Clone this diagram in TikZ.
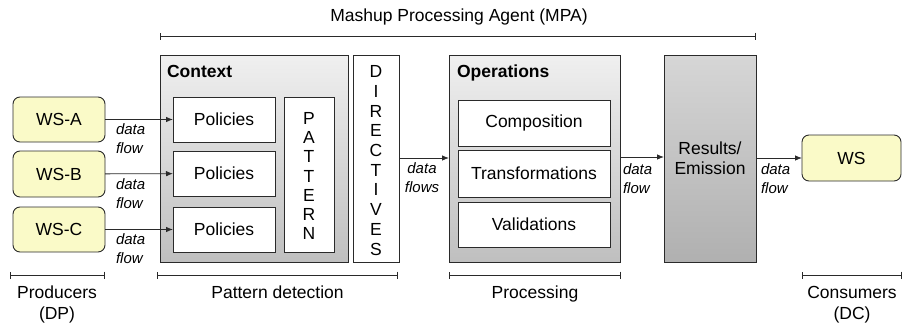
\documentclass[tikz,border=0pt]{standalone}
\usepackage{fontspec}
\setmainfont{Liberation Sans}
\usetikzlibrary{arrows.meta,calc}
\definecolor{wsyellow}{HTML}{FAFAC8}
\definecolor{edge}{HTML}{2A2A2A}
\begin{document}
\begin{tikzpicture}[x=1pt,y=-1pt,
  every node/.style={font=\fontsize{17.5}{20}\selectfont, inner sep=0pt, outer sep=0pt},
  wsbox/.style={draw=edge, line width=0.9pt, fill=wsyellow, rounded corners=7pt},
  whitebox/.style={draw=edge, line width=0.9pt, fill=white},
  lightgroup/.style={draw=edge, line width=0.9pt, top color=black!6, bottom color=black!25},
  darkgroup/.style={draw=edge, line width=0.9pt, top color=black!16, bottom color=black!31},
  flow/.style={-{Latex[length=7pt,width=5.5pt]}, line width=0.8pt, draw=edge},
  lbl/.style={font=\fontsize{15}{18.5}\selectfont\itshape},
  grouptitle/.style={font=\fontsize{17.5}{20}\selectfont\bfseries, anchor=north west},
  brk/.style={{Bar[width=7pt]}-{Bar[width=7pt]}, line width=0.8pt, draw=edge},
  caption/.style={align=center, anchor=north, font=\fontsize{17.5}{21}\selectfont}
]
\useasboundingbox (0,0) rectangle (902,327);

% top bracket
\coordinate (mpaL) at (160,36);
\coordinate (mpaR) at (756,36);
\draw[brk] (mpaL) -- (mpaR);
\node (mpa) at (459,17) {Mashup Processing Agent (MPA)};

% producers
\node[wsbox, minimum width=92pt, minimum height=45pt] (wsa) at (59,119.5) {WS-A};
\node[wsbox, minimum width=92pt, minimum height=46pt] (wsb) at (59,174) {WS-B};
\node[wsbox, minimum width=92pt, minimum height=45pt] (wsc) at (59,229.5) {WS-C};

% context
\node[lightgroup, minimum width=188pt, minimum height=207pt] (ctx) at (254,158.5) {};
\node[grouptitle] (ctxt) at (167,65) {Context};
\node[whitebox, minimum width=102pt, minimum height=45pt] (pol1) at (224,119.5) {Policies};
\node[whitebox, minimum width=102pt, minimum height=45pt] (pol2) at (224,173.5) {Policies};
\node[whitebox, minimum width=102pt, minimum height=45pt] (pol3) at (224,229.5) {Policies};
\node[whitebox, minimum width=50pt, minimum height=155pt] (pat) at (309,174.5) {};
\node[align=center, font=\fontsize{17.5}{19.2}\selectfont] (patt) at ($(pat.center)+(0,1.5)$) {P\\A\\T\\T\\E\\R\\N};

% directives
\node[whitebox, minimum width=46pt, minimum height=207pt] (dir) at (376,158.5) {};
\node[align=center, font=\fontsize{17.5}{19.7}\selectfont] (dirt) at ($(dir.center)+(0,2)$) {D\\I\\R\\E\\C\\T\\I\\V\\E\\S};

% operations
\node[lightgroup, minimum width=171pt, minimum height=207pt] (ops) at (534.5,158.5) {};
\node[grouptitle] (opst) at (457,65) {Operations};
\node[whitebox, minimum width=152pt, minimum height=46pt] (comp) at (534,123) {Composition};
\node[whitebox, minimum width=152pt, minimum height=47pt] (trans) at (534,173.5) {Transformations};
\node[whitebox, minimum width=152pt, minimum height=45pt] (val) at (534,224.5) {Validations};

% results
\node[darkgroup, minimum width=92pt, minimum height=207pt, align=center] (res) at (710,158.5) {Results/\\Emission};

% consumer
\node[wsbox, minimum width=99pt, minimum height=46pt] (ws) at (851.5,158) {WS};

% flows
\draw[flow] (wsa) -- (pol1);
\draw[flow] (wsb) -- (pol2);
\draw[flow] (wsc) -- (pol3);
\draw[flow] (dir.east |- 0,158) -- (ops.west |- 0,158);
\draw[flow] (ops.east |- 0,157) -- (res.west |- 0,157);
\draw[flow] (res.east |- 0,158) -- (ws.west |- 0,158);

\node[lbl, anchor=north west, align=left] (la) at (116,124) {data\\flow};
\node[lbl, anchor=north west, align=left] (lb) at (116,179) {data\\flow};
\node[lbl, anchor=north west, align=left] (lc) at (116,234) {data\\flow};
\node[lbl, anchor=north, align=center] (ld) at (422,163) {data\\flows};
\node[lbl, anchor=north west, align=left] (le) at (623,164) {data\\flow};
\node[lbl, anchor=north west, align=left] (lf) at (761,164) {data\\flow};

% bottom brackets
\coordinate (prL) at (10,275);
\coordinate (prR) at (105,275);
\draw[brk] (prL) -- (prR);
\node[caption] (prt) at (57,286) {Producers\\(DP)};

\coordinate (pdL) at (157,275);
\coordinate (pdR) at (398,275);
\draw[brk] (pdL) -- (pdR);
\node[caption] (pdt) at (277.5,286) {Pattern detection};

\coordinate (psL) at (449,275);
\coordinate (psR) at (621,275);
\draw[brk] (psL) -- (psR);
\node[caption] (pst) at (535,286) {Processing};

\coordinate (csL) at (802,275);
\coordinate (csR) at (901.5,275);
\draw[brk] (csL) -- (csR);
\node[caption] (cst) at (852,286) {Consumers\\(DC)};
\end{tikzpicture}
\end{document}
